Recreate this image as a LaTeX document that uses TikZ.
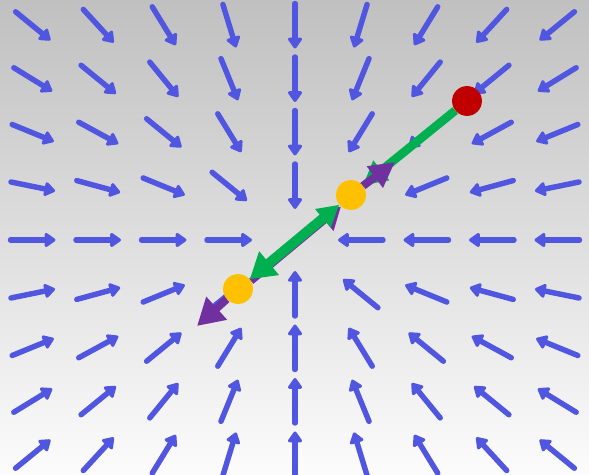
\documentclass[tikz,border=0pt]{standalone}
\usetikzlibrary{arrows.meta,backgrounds,calc}
\definecolor{fieldblue}{RGB}{80,86,224}
\definecolor{stepgreen}{HTML}{00B050}
\definecolor{mompurple}{HTML}{7030A0}
\definecolor{ptyellow}{HTML}{FFC000}
\definecolor{ptred}{HTML}{C00000}
\definecolor{bgtop}{RGB}{192,192,192}
\definecolor{bgbot}{RGB}{252,252,252}
\tikzset{
  field/.style={fieldblue, line width=4.1pt, line cap=round, -{Triangle[width=12pt,length=9pt,round]}},
  grad/.style={stepgreen, line width=6.5pt, -{Triangle[width=18pt,length=18pt]}},
  mom/.style={mompurple, line width=6pt, -{Triangle[width=19pt,length=19pt]}},
  dot/.style={circle, inner sep=0pt, minimum size=22.5pt},
}
\begin{document}
\begin{tikzpicture}[x=0.02646cm, y=-0.02646cm]
\useasboundingbox (0,0) rectangle (589,475);
\node[dot, fill=ptred] (start) at (467,101) {};
\node[dot, fill=ptyellow] (y1) at (351,195) {};
\node[dot, fill=ptyellow] (y2) at (238,289) {};
\coordinate (m1) at (395,162);
\coordinate (m2) at (197,326);
\begin{scope}[on background layer]
\shade[top color=bgtop, bottom color=bgbot] (0,0) rectangle (589,475);
% arrows pointing to the middle
\foreach \i in {-4,...,4}
  \foreach \j in {-4,...,4} {
    \pgfmathtruncatemacro\rr{\i*\i+\j*\j}
    \ifnum\rr>0
      \pgfmathsetmacro\ang{atan2(-\j*53.5,-\i*65.5)}
      \draw[field] ($(295+65.5*\i,240+53.5*\j)+(\ang+180:22.5)$) -- ($(295+65.5*\i,240+53.5*\j)+(\ang:22.5)$);
    \fi
  }
\draw[mom, line width=5pt, -{Triangle[width=20pt,length=16pt]}, transform canvas={shift={(1.2pt,-1.5pt)}}] (y2) -- (y1);
\draw[grad, line width=7.5pt, {Triangle[width=17pt,length=16pt]}-{Triangle[width=22pt,length=19pt]}] (y1) -- (y2);
\draw[grad] (start) -- (y1);
\draw[mom] (y1) -- (m1);
\draw[mom, -{Triangle[width=22pt,length=20pt]}] (y2) -- (m2);
\end{scope}
\end{tikzpicture}
\end{document}
